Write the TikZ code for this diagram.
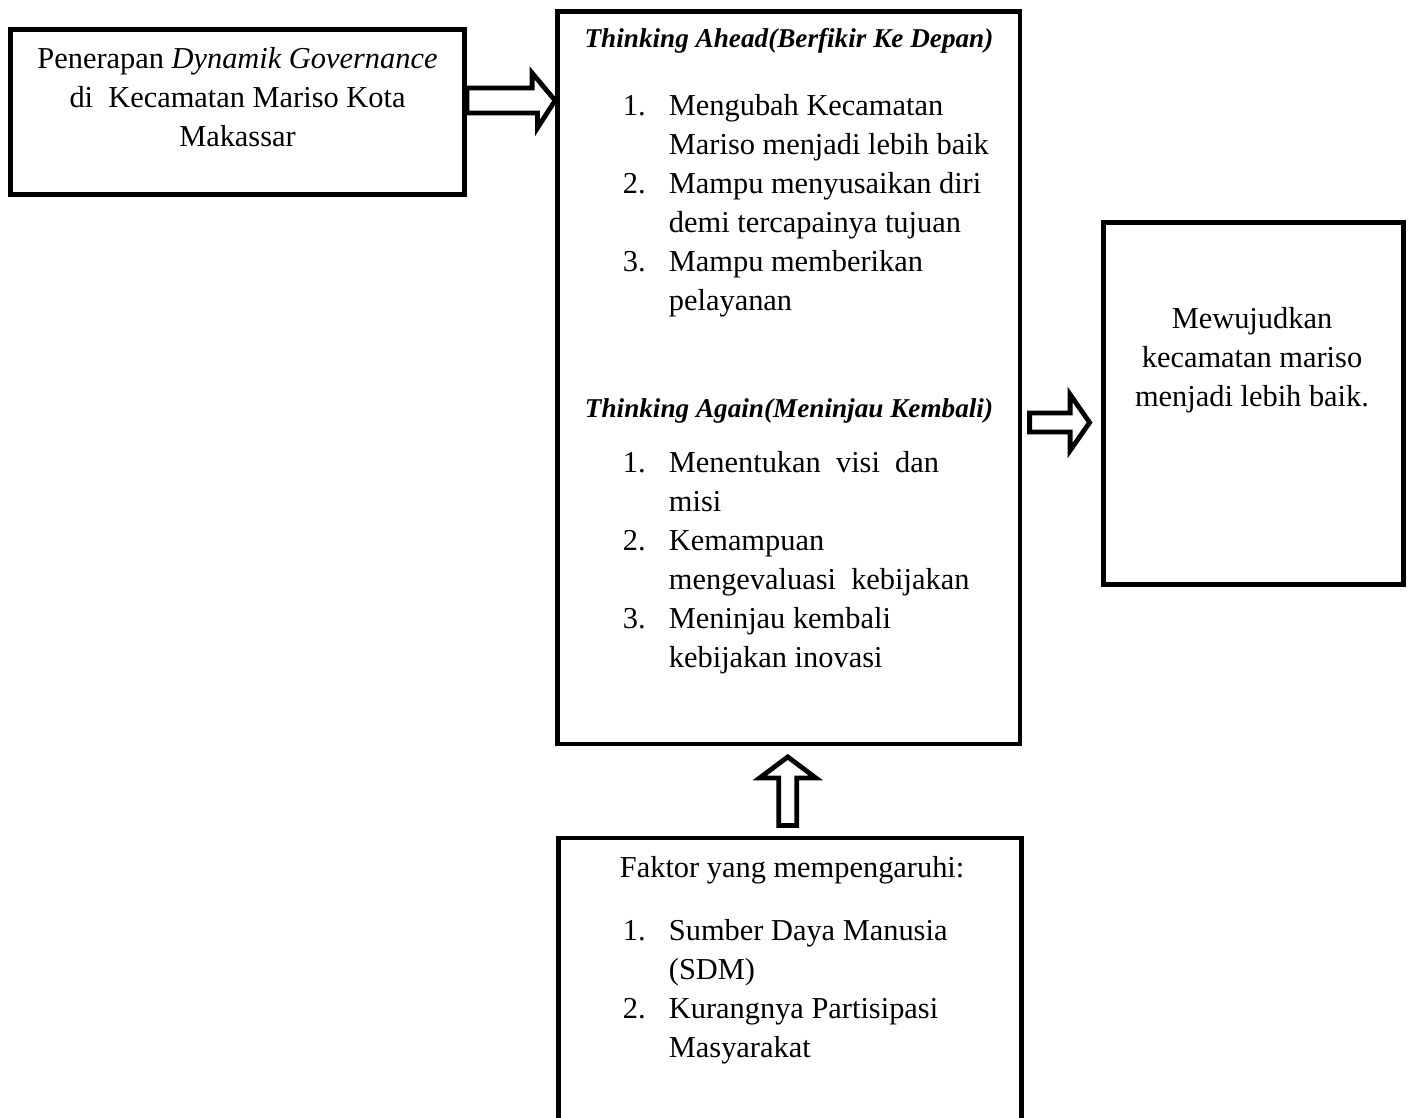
\documentclass[tikz,border=0pt]{standalone}
\usepackage{fontspec}
\setmainfont{Liberation Serif}
\usetikzlibrary{calc}

% text sizes of the whole figure
\newcommand{\mainsize}{\fontsize{15.2pt}{19.5pt}\selectfont}
\newcommand{\headsize}{\fontsize{13.6pt}{19.5pt}\selectfont}
% number column of the lists
\newcommand{\num}[1]{\makebox[23pt][l]{#1}}

\begin{document}
\begin{tikzpicture}[x=0.5pt,y=-0.5pt,
  box/.style={draw, line width=2.4pt, rectangle, inner sep=0pt},
  txt/.style={inner sep=0pt, font=\mainsize},
  head/.style={inner sep=0pt, font=\headsize\bfseries\itshape},
  blockarrow/.style={draw, line width=2.4pt, line join=miter}]
% one unit = one pixel of the page
\def\px{0.5pt}

% page size
\useasboundingbox (0,0) rectangle (1413,1118);
\clip (0,0) rectangle (1413,1118);

% the four boxes
\node[box, minimum width=454*\px, minimum height=165*\px] (lbox) at (237.5,112) {};
\node[box, minimum width=462.5*\px, minimum height=732.5*\px] (cbox) at (788.75,377.75) {};
\node[box, minimum width=300*\px, minimum height=362*\px] (rbox) at (1253.5,403.5) {};
\node[box, minimum width=463*\px, minimum height=400*\px] (bbox) at (790,1038) {};

% text of the left box
\node[txt, anchor=north] (ltext) at (237.5,40.7) {\begin{tabular}{c}
Penerapan \textit{Dynamik Governance}\\
di\ \ Kecamatan Mariso Kota\\
Makassar
\end{tabular}};

% text of the middle box
\node[head, anchor=base] (ahead) at (789,48) {Thinking Ahead(Berfikir Ke Depan)};
\node[txt, anchor=north west] (alist) at (622.5,87.7) {\begin{tabular}{@{}l@{}}
\num{1.}Mengubah Kecamatan\\
\num{}Mariso menjadi lebih baik\\
\num{2.}Mampu menyusaikan diri\\
\num{}demi tercapainya tujuan\\
\num{3.}Mampu memberikan\\
\num{}pelayanan
\end{tabular}};

\node[head, anchor=base] (again) at (789,417) {Thinking Again(Meninjau Kembali)};
\node[txt, anchor=north west] (blist) at (622.5,444.7) {\begin{tabular}{@{}l@{}}
\num{1.}Menentukan\ \ visi\ \ dan\\
\num{}misi\\
\num{2.}Kemampuan\\
\num{}mengevaluasi\ \ kebijakan\\
\num{3.}Meninjau kembali\\
\num{}kebijakan inovasi
\end{tabular}};

% text of the right box
\node[txt, anchor=north] (rtext) at (1252,300.7) {\begin{tabular}{c}
Mewujudkan\\
kecamatan mariso\\
menjadi lebih baik.
\end{tabular}};

% text of the bottom box
\node[txt, anchor=base west] (faktor) at (619.5,877) {Faktor yang mempengaruhi:};
\node[txt, anchor=north west] (clist) at (622.5,912.7) {\begin{tabular}{@{}l@{}}
\num{1.}Sumber Daya Manusia\\
\num{}(SDM)\\
\num{2.}Kurangnya Partisipasi\\
\num{}Masyarakat
\end{tabular}};

% hollow arrow: left box to middle box
\coordinate (tipA) at (cbox.west |- 0,100.5);
\draw[blockarrow] (tipA) -- ++(-23,-27.5) -- ++(0,15) -- (lbox.east |- 0,88)
  -- (lbox.east |- 0,113) -- ++(70.5,0) -- ++(0,15) -- cycle;

% hollow arrow: middle box to right box
\coordinate (tipB) at ($(rbox.west |- 0,422.5)+(-11.5,0)$);
\draw[blockarrow] (tipB) -- ++(-19.5,-28) -- ++(0,18.5) -- ++(-40.5,0)
  -- ++(0,19) -- ++(40.5,0) -- ++(0,18.5) -- cycle;

% hollow arrow: bottom box up to middle box
\coordinate (tipC) at ($(cbox.south)+(-1,10.5)$);
\draw[blockarrow] (tipC) -- ++(28,21) -- ++(-19,0) -- ++(0,47.5)
  -- ++(-18,0) -- ++(0,-47.5) -- ++(-19,0) -- cycle;

\end{tikzpicture}
\end{document}
